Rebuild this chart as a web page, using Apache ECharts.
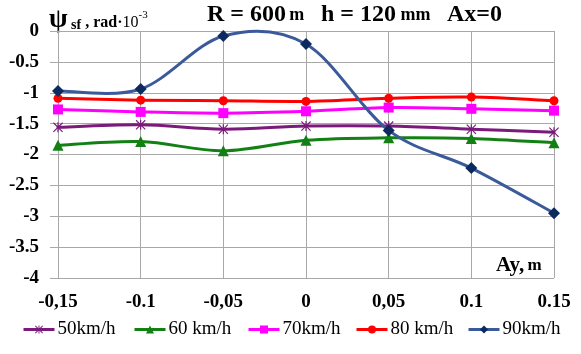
<!DOCTYPE html>
<html><head><meta charset="utf-8">
<script src="https://cdn.jsdelivr.net/npm/echarts@6/dist/echarts.min.js"></script>
<style>html,body{margin:0;padding:0;background:#fff}#c{width:581px;height:354px}</style>
</head><body><div id="c"></div>
<script>
const categories = ['-0,15', '-0.1', '-0,05', '0', '0,05', '0.1', '0.15'];
const yTicks = [0, -0.5, -1, -1.5, -2, -2.5, -3, -3.5, -4];
const s50 = [-1.56, -1.52, -1.59, -1.54, -1.54, -1.59, -1.64];
const s60 = [-1.85, -1.79, -1.94, -1.77, -1.73, -1.74, -1.81];
const s70 = [-1.27, -1.31, -1.33, -1.30, -1.24, -1.26, -1.29];
const s80 = [-1.09, -1.12, -1.13, -1.14, -1.09, -1.07, -1.13];
const s90 = [-0.97, -0.94, -0.08, -0.21, -1.61, -2.22, -2.95];
const names = ['50km/h', '60 km/h', '70km/h', '80 km/h', '90km/h'];

const serif = 'Liberation Serif';
const asterisk = 'path://M4.4 0 L5.6 0 L5.6 10 L4.4 10 Z M0 0.8 L0.8 0 L10 9.2 L9.2 10 Z M10 0.8 L9.2 0 L0 9.2 L0.8 10 Z';
const LW = 3;

// marker series (also drives legend)
function mk(name, data, color, symbol, size, markerColor) {
  return {
    name, type: 'line', data, z: 5,
    symbol, symbolSize: size,
    lineStyle: { color, width: LW, opacity: 0 },
    itemStyle: { color: markerColor || color },
    emphasis: { disabled: true }
  };
}
// smooth curve through the same data (Catmull-Rom style, via axis coords)
function curve(data, color) {
  return {
    type: 'custom', z: 3, silent: true,
    data: data.map((v, i) => [i, v]),
    encode: { x: 0, y: 1 },
    renderItem: function (params, api) {
      if (params.dataIndex !== 0) return null;
      const p = data.map((v, i) => api.coord([i, v]));
      const children = [];
      for (let i = 0; i < p.length - 1; i++) {
        const p0 = p[Math.max(i - 1, 0)], p1 = p[i], p2 = p[i + 1], p3 = p[Math.min(i + 2, p.length - 1)];
        children.push({
          type: 'bezierCurve',
          shape: {
            x1: p1[0], y1: p1[1], x2: p2[0], y2: p2[1],
            cpx1: p1[0] + (p2[0] - p0[0]) / 6, cpy1: p1[1] + (p2[1] - p0[1]) / 6,
            cpx2: p2[0] - (p3[0] - p1[0]) / 6, cpy2: p2[1] - (p3[1] - p1[1]) / 6
          },
          style: { stroke: color, lineWidth: LW, fill: null, lineCap: 'round' }
        });
      }
      return { type: 'group', children };
    }
  };
}

const colors = ['#7a1a7a', '#138013', '#ff00ff', '#ff0000', '#3a5a9a'];
const legendLeft = [17, 128, 242, 350, 462];
const legends = names.map((n, i) => ({
  data: [n], left: legendLeft[i], bottom: 10, itemWidth: 31, itemHeight: 10,
  lineStyle: { width: LW, opacity: 1 },
  textStyle: { fontFamily: serif, fontSize: 19, color: '#000', padding: [0, 0, 0, -2] }
}));

const chart = echarts.init(document.getElementById('c'));
chart.setOption({
  animation: false,
  backgroundColor: '#fff',
  grid: { left: 58, right: 27, top: 31, bottom: 76 },
  xAxis: {
    type: 'category', data: categories, boundaryGap: false,
    axisLine: { show: false }, axisTick: { show: false },
    splitLine: { show: true, lineStyle: { color: '#a8a8a8', width: 1 } },
    axisLabel: { fontFamily: serif, fontWeight: 'bold', fontSize: 19, color: '#000', margin: 15 }
  },
  yAxis: {
    type: 'value', min: -4, max: 0, interval: 0.5,
    axisLine: { show: true, lineStyle: { color: '#a8a8a8' } },
    axisTick: { show: true, length: 8, lineStyle: { color: '#a8a8a8' } },
    splitLine: { lineStyle: { color: '#a8a8a8', width: 1 } },
    axisLabel: { fontFamily: serif, fontWeight: 'bold', fontSize: 19, color: '#000', margin: 19,
      formatter: v => (yTicks.indexOf(v) >= 0 ? String(v) : '') }
  },
  legend: legends,
  graphic: [
    { type: 'text', left: 207, top: 3, style: { text: '{b|R = 600} {s|m}', rich: {
      b: { fontFamily: serif, fontWeight: 'bold', fontSize: 24, fill: '#000' },
      s: { fontFamily: serif, fontWeight: 'bold', fontSize: 18, fill: '#000' } } } },
    { type: 'text', left: 321, top: 3, style: { text: '{b|h = 120}{s| mm}', rich: {
      b: { fontFamily: serif, fontWeight: 'bold', fontSize: 24, fill: '#000' },
      s: { fontFamily: serif, fontWeight: 'bold', fontSize: 18, fill: '#000' } } } },
    { type: 'text', left: 447, top: 3, style: { text: 'Ax=0', fontFamily: serif, fontWeight: 'bold', fontSize: 24, fill: '#000' } },
    { type: 'text', left: 49, top: 7, style: { text: '{p|ψ}{sub| sf}{t| , rad·}{n|10}{sup|-3}', rich: {
      p: { fontFamily: serif, fontWeight: 'bold', fontSize: 27, fill: '#000' },
      sub: { fontFamily: serif, fontWeight: 'bold', fontSize: 14, fill: '#000', padding: [10,0,0,0] },
      t: { fontFamily: serif, fontWeight: 'bold', fontSize: 16, fill: '#000', padding: [4,0,0,0] },
      n: { fontFamily: serif, fontSize: 16, fill: '#000', padding: [4,0,0,0] },
      sup: { fontFamily: serif, fontSize: 11, fill: '#000', padding: [0,0,10,0] } } } },
    { type: 'text', left: 496, top: 255, style: { text: '{b|Ay,} {s|m}', rich: {
      b: { fontFamily: serif, fontWeight: 'bold', fontSize: 21, fill: '#000' },
      s: { fontFamily: serif, fontWeight: 'bold', fontSize: 17, fill: '#000' } } } }
  ],
  series: [
    curve(s50, colors[0]), curve(s60, colors[1]), curve(s70, colors[2]), curve(s80, colors[3]), curve(s90, colors[4]),
    mk(names[0], s50, colors[0], asterisk, 10),
    mk(names[1], s60, colors[1], 'triangle', 11),
    mk(names[2], s70, colors[2], 'rect', 10),
    mk(names[3], s80, colors[3], 'circle', 9),
    mk(names[4], s90, colors[4], 'diamond', 12, '#0c2a60')
  ]
});
</script></body></html>
